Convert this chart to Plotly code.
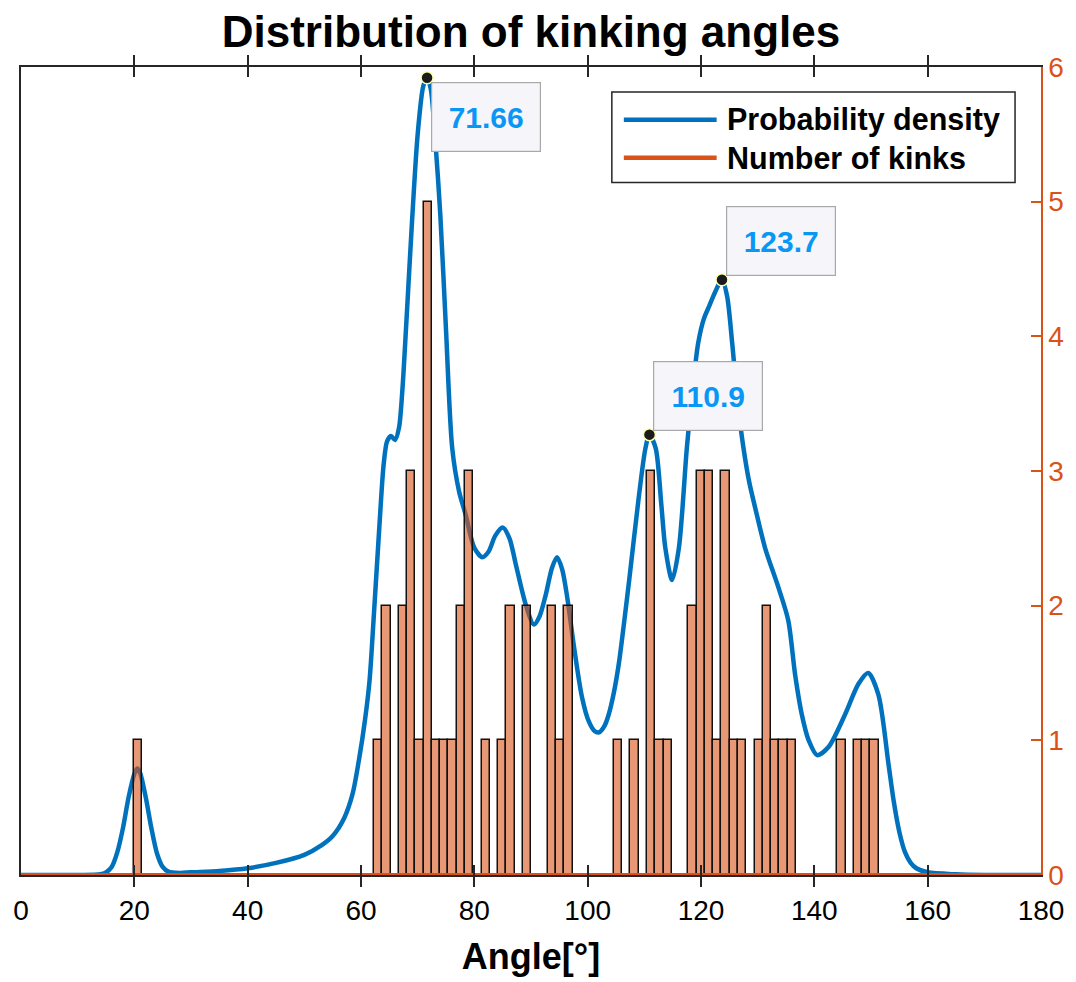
import plotly.graph_objects as go

# ---------------- data ----------------
# Probability density curve (in right-axis units)
curve_x = [0, 10, 14, 15, 16, 17, 18, 19, 20, 20.5, 21, 22, 23, 24, 25, 26, 28, 30, 35, 40, 45,
           50, 53, 55, 57, 58.5, 59.7, 60.7, 61.5, 62.3, 63.2, 64.0, 64.6, 65.3, 66.0, 66.7, 67.3,
           68, 69, 70, 71, 71.66, 72.3, 73, 74, 75, 76.1, 77.3, 78.5, 80.0, 81.4, 82.5, 83.7, 85.0,
           86.2, 87.3, 89.06, 90.5, 91.5, 92.6, 93.7, 94.6, 95.5, 96.4, 97.6, 99.0, 100.2, 101.2,
           102.0, 103.0, 103.7, 104.6, 105.5, 107.3, 109.0, 110.2, 110.9, 112.0, 113.0, 113.7,
           114.9, 116.1, 117.5, 118.5, 119.5, 120.5, 121.5, 122.5, 123.7, 124.6, 125.5, 126.5,
           127.5, 128.5, 129.6, 131.3, 133.7, 135.4, 136.6, 137.8, 139.0, 140.5, 142.5, 145.4,
           147.8, 149.5, 151.3, 153.1, 154, 155, 156, 157, 158, 160, 165, 170, 180]
curve_y = [0, 0, 0.005, 0.02, 0.06, 0.17, 0.35, 0.58, 0.75, 0.79, 0.76, 0.58, 0.35, 0.16, 0.06,
           0.025, 0.015, 0.02, 0.03, 0.05, 0.09, 0.15, 0.22, 0.29, 0.42, 0.6, 0.87, 1.15, 1.44,
           1.95, 2.56, 3.05, 3.22, 3.26, 3.23, 3.32, 3.6, 4.1, 4.85, 5.5, 5.86, 5.92, 5.84, 5.52,
           4.9, 4.05, 3.17, 2.85, 2.67, 2.43, 2.36, 2.4, 2.52, 2.58, 2.5, 2.31, 2.01, 1.86, 1.92,
           2.08, 2.28, 2.36, 2.27, 2.06, 1.69, 1.32, 1.14, 1.07, 1.06, 1.11, 1.19, 1.35, 1.57,
           2.18, 2.8, 3.17, 3.27, 3.17, 2.75, 2.43, 2.19, 2.43, 3.17, 3.6, 3.95, 4.13, 4.23, 4.33,
           4.42, 4.3, 3.95, 3.5, 3.17, 2.92, 2.72, 2.43, 2.13, 1.89, 1.49, 1.19, 1.0, 0.89, 0.95,
           1.19, 1.42, 1.5, 1.34, 0.82, 0.55, 0.32, 0.17, 0.09, 0.05, 0.02, 0.005, 0, 0]

# Histogram: bin centres (degrees) of non-empty bins and their counts
bin_width = 1.46
bin_centers = [20.68, 63.02, 64.48, 67.40, 68.86, 70.32, 71.78, 73.24, 74.70, 76.16, 77.62, 79.08,
               82.00, 84.92, 86.38, 89.30, 93.68, 95.14, 96.60, 105.36, 108.28, 111.20, 112.66,
               114.12, 118.50, 119.96, 121.42, 122.88, 124.34, 125.80, 127.26, 130.18, 131.64,
               133.10, 134.56, 136.02, 144.78, 147.70, 149.16, 150.62]
kink_counts = [1, 1, 2, 2, 3, 1, 5, 1, 1, 1, 2, 3,
               1, 1, 2, 2, 2, 1, 2, 1, 1, 3, 1,
               1, 2, 3, 3, 1, 3, 1, 1, 1, 2,
               1, 1, 1, 1, 1, 1, 1]

# "Number of kinks" line (flat along zero)
kinks_line_x = [0, 180]
kinks_line_y = [0, 0]

# Data tips on the density peaks
peak_x = [71.66, 123.7, 110.9]
peak_y = [5.92, 4.42, 3.27]
peak_labels = ["71.66", "123.7", "110.9"]
peak_label_side = ["below", "above", "above"]

x_ticks = [0, 20, 40, 60, 80, 100, 120, 140, 160, 180]
y_ticks = [0, 1, 2, 3, 4, 5, 6]

legend_labels = ["Probability density", "Number of kinks"]

# ---------------- styles ----------------
BLUE = "#0072BD"
ORANGE = "#D95319"
AX = "#262626"
FONT = "Liberation Sans, Arial, sans-serif"

fig = go.Figure()

fig.add_trace(go.Scatter(x=curve_x, y=curve_y, mode="lines", yaxis="y",
                         line=dict(color=BLUE, width=4.5, shape="spline", smoothing=0.8),
                         name=legend_labels[0], showlegend=False, hoverinfo="skip"))

fig.add_trace(go.Bar(x=bin_centers, y=kink_counts, width=bin_width, yaxis="y2",
                     marker=dict(color="rgba(217,83,25,0.6)", line=dict(color="#111111", width=1.5)),
                     showlegend=False, hoverinfo="skip"))

fig.add_trace(go.Scatter(x=kinks_line_x, y=kinks_line_y, mode="lines", yaxis="y2",
                         line=dict(color=ORANGE, width=4), name=legend_labels[1],
                         showlegend=False, hoverinfo="skip"))

fig.add_trace(go.Scatter(x=peak_x, y=peak_y, mode="markers", yaxis="y2", cliponaxis=False,
                         marker=dict(size=12, color="#1b1b1b", line=dict(color="#FFFFB0", width=1.5)),
                         showlegend=False, hoverinfo="skip"))

annotations = []
for px_, py_, lab, side in zip(peak_x, peak_y, peak_labels, peak_label_side):
    annotations.append(dict(
        x=px_, y=py_, xref="x", yref="y2", text="<b>%s</b>" % lab, showarrow=False,
        xanchor="left", yanchor="top" if side == "below" else "bottom",
        xshift=4, yshift=-4 if side == "below" else 4,
        width=106, height=66, align="center", valign="middle",
        bgcolor="#F6F6FA", bordercolor="#A8A8A8", borderwidth=1.2, borderpad=1,
        font=dict(family=FONT, size=30, color="#0A96F5")))

# manual legend (paper coordinates)
def px2x(px):
    return (px - 21) / 1022.0

def py2y(py):
    return (878 - py) / 811.0

shapes = [
    dict(type="rect", xref="paper", yref="paper", x0=px2x(613), x1=px2x(1017),
         y0=py2y(183), y1=py2y(92), line=dict(color=AX, width=1.5), fillcolor="white"),
    dict(type="line", xref="paper", yref="paper", x0=px2x(625), x1=px2x(718),
         y0=py2y(120), y1=py2y(120), line=dict(color=BLUE, width=4.5)),
    dict(type="line", xref="paper", yref="paper", x0=px2x(625), x1=px2x(718),
         y0=py2y(158), y1=py2y(158), line=dict(color=ORANGE, width=4.5)),
]
for lab, ypx in zip(legend_labels, [120, 158]):
    annotations.append(dict(x=px2x(726), y=py2y(ypx), xref="paper", yref="paper",
                            text="<b>%s</b>" % lab, showarrow=False, xanchor="left",
                            yanchor="middle", font=dict(family=FONT, size=30.5, color="black")))

fig.update_layout(
    width=1076, height=982,
    margin=dict(l=21, r=33, t=67, b=104),
    paper_bgcolor="white", plot_bgcolor="white",
    font=dict(family=FONT, color="black"),
    title=dict(text="<b>Distribution of kinking angles</b>", x=0.5, xref="paper",
               y=0.968, yref="container", yanchor="middle",
               font=dict(family=FONT, size=44, color="black")),
    xaxis=dict(range=[0, 180], tickvals=x_ticks, ticks="inside", ticklen=10, tickwidth=1.5,
               tickcolor=AX, showline=True, linecolor=AX, linewidth=1.5, mirror="allticks",
               showgrid=False, zeroline=False, ticklabelstandoff=10,
               tickfont=dict(family=FONT, size=28, color="black"),
               title=dict(text="<b>Angle[°]</b>", font=dict(family=FONT, size=36, color="black"),
                          standoff=18)),
    yaxis=dict(range=[0, 6], showticklabels=False, ticks="", showline=True, linecolor=AX,
               linewidth=1.5, showgrid=False, zeroline=False, fixedrange=True),
    yaxis2=dict(range=[0, 6], tickvals=y_ticks, overlaying="y", side="right", ticks="inside",
                ticklen=10, tickwidth=1.5, tickcolor=ORANGE, showline=True, linecolor=ORANGE,
                linewidth=1.5, showgrid=False, zeroline=False,
                tickfont=dict(family=FONT, size=28, color=ORANGE)),
    shapes=shapes,
    annotations=annotations,
    bargap=0,
)

fig.write_html("out.html", config={"displayModeBar": False},
               post_script="document.body.style.margin='0';")
